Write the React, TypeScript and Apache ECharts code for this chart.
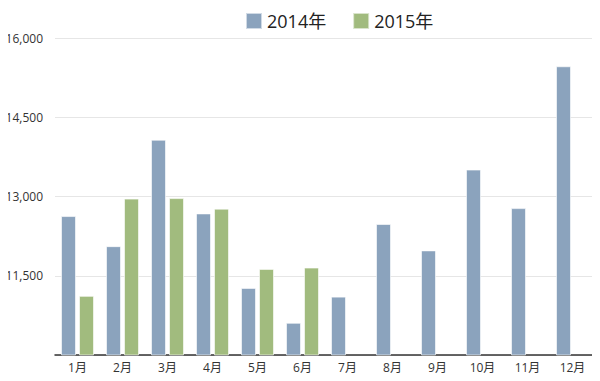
import React, { useEffect, useRef } from "react";
import * as echarts from "echarts";

const categories = ["1月", "2月", "3月", "4月", "5月", "6月", "7月", "8月", "9月", "10月", "11月", "12月"];
const series2014 = [12630, 12060, 14075, 12680, 11270, 10610, 11105, 12480, 11980, 13510, 12780, 15465];
const series2015: (number | string)[] = [11120, 12960, 12970, 12770, 11630, 11655, "-", "-", "-", "-", "-", "-"];
const yMin = 10000;
const yMax = 16000;
const yInterval = 1500;

export default function App() {
  const ref = useRef<HTMLDivElement>(null);
  useEffect(() => {
    if (!ref.current) return;
    const chart = echarts.init(ref.current, null, { renderer: "svg" });
    const font = "'Open Sans', 'Noto Sans CJK JP', sans-serif";
    chart.setOption({
      animation: false,
      textStyle: { fontFamily: font },
      legend: {
        top: 7,
        left: 240,
        icon: "rect",
        itemWidth: 16,
        itemHeight: 16,
        itemGap: 26,
        textStyle: { fontSize: 18, color: "#222", fontFamily: font },
        data: ["2014年", "2015年"],
      },
      grid: { left: 55, right: 5, top: 38, bottom: 26, containLabel: false },
      xAxis: {
        type: "category",
        data: categories,
        axisLine: { lineStyle: { color: "#333", width: 1.5 } },
        axisTick: { show: false },
        axisLabel: { color: "#333", fontSize: 12, margin: 6, fontFamily: font },
      },
      yAxis: {
        type: "value",
        min: yMin,
        max: yMax,
        interval: yInterval,
        axisLine: { show: false },
        axisTick: { show: false },
        axisLabel: {
          color: "#333",
          fontSize: 12,
          margin: 12,
          fontFamily: font,
          formatter: (v: number) => (v === yMin ? "" : v.toLocaleString("en-US")),
        },
        splitLine: { lineStyle: { color: "#e6e6e6", width: 1 } },
      },
      series: [
        {
          name: "2014年",
          type: "bar",
          data: series2014,
          barWidth: 15,
          barGap: "20%",
          itemStyle: { color: "#8ba3bd", borderColor: "rgba(255,255,255,0.6)", borderWidth: 1 },
        },
        {
          name: "2015年",
          type: "bar",
          data: series2015,
          barWidth: 15,
          barGap: "20%",
          itemStyle: { color: "#a1bb7e", borderColor: "rgba(255,255,255,0.6)", borderWidth: 1 },
        },
      ],
    });
    return () => chart.dispose();
  }, []);
  return <div ref={ref} style={{ width: 600, height: 381, margin: -8 }} />;
}
